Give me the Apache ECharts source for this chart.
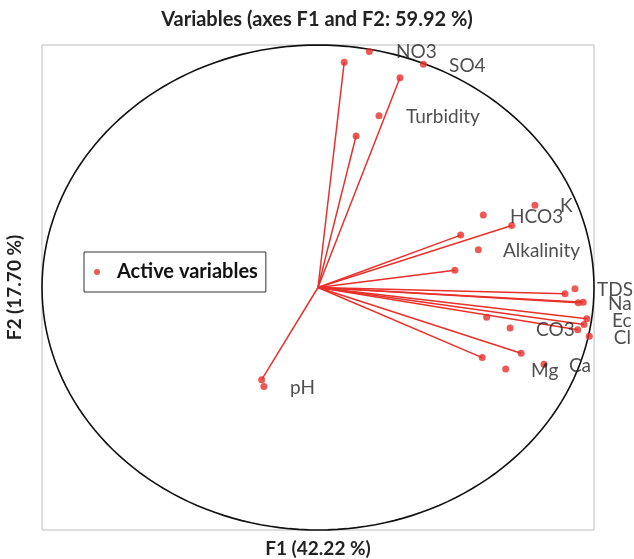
<!DOCTYPE html>
<html>
<head>
<meta charset="utf-8">
<script src="https://cdn.jsdelivr.net/npm/echarts@6/dist/echarts.min.js"></script>
<style>
  html, body { margin: 0; background: #fff; }
  #chart { width: 634px; height: 559px; }
</style>
</head>
<body>
<div id="chart"></div>
<script>
// F1 / F2 coordinates of the vector tips (drawn with a line from the origin)
const vectorEnds = [
  [0.095, 0.929], [0.138, 0.625], [0.297, 0.865],
  [0.702, 0.256], [0.517, 0.216], [0.496, 0.071],
  [0.895, -0.026], [0.943, -0.063], [0.961, -0.061],
  [0.974, -0.129], [0.964, -0.153], [0.941, -0.174],
  [0.736, -0.271], [0.595, -0.289], [-0.204, -0.380]
];
// points shown without a line
const looseDots = [
  [0.186, 0.973], [0.382, 0.921], [0.221, 0.708],
  [0.786, 0.339], [0.599, 0.299], [0.581, 0.156],
  [0.931, -0.005], [0.611, -0.123], [0.696, -0.167],
  [0.983, -0.201], [0.680, -0.336], [0.819, -0.316],
  [-0.196, -0.408]
];
const labelNames = ['NO3', 'SO4', 'Turbidity', 'K', 'HCO3', 'Alkalinity', 'TDS', 'Na', 'Ec', 'Cl', 'CO3', 'Mg', 'Ca', 'pH'];
const labelX = [0.283, 0.475, 0.319, 0.877, 0.696, 0.670, 1.011, 1.051, 1.065, 1.072, 0.790, 0.772, 0.909, -0.101];
const labelY = [0.971, 0.913, 0.702, 0.335, 0.293, 0.149, -0.008, -0.066, -0.136, -0.207, -0.174, -0.343, -0.322, -0.413];

const RED = '#e8302a';
const FONT = 'Lato';

const chart = echarts.init(document.getElementById('chart'));

const hiddenAxis = (name, extra) => Object.assign({
  type: 'value',
  min: -1,
  max: 1,
  name: name,
  nameLocation: 'middle',
  nameTextStyle: {fontFamily: FONT, fontWeight: 'bold', fontSize: 19, color: '#222'},
  axisLine: {show: false},
  axisTick: {show: false},
  axisLabel: {show: false},
  splitLine: {show: false}
}, extra);

chart.setOption({
  animation: false,
  title: {
    text: 'Variables (axes F1 and F2: 59.92 %)',
    left: 'center',
    top: 5,
    textStyle: {fontFamily: FONT, fontWeight: 'bold', fontSize: 20, color: '#222'}
  },
  legend: {
    data: ['Active variables'],
    left: 84,
    top: 252,
    padding: [10, 8, 10, 10],
    borderColor: '#333',
    borderWidth: 1,
    icon: 'circle',
    itemWidth: 6,
    itemHeight: 6,
    textStyle: {fontFamily: FONT, fontWeight: 'bold', fontSize: 20, color: '#111', padding: [0, 0, 0, 12]}
  },
  grid: {
    left: 42,
    right: 40,
    top: 45,
    bottom: 29,
    outerBoundsMode: 'none',
    show: true,
    borderColor: '#bdbdbd',
    borderWidth: 1
  },
  xAxis: hiddenAxis('F1 (42.22 %)', {nameGap: 9}),
  yAxis: hiddenAxis('F2 (17.70 %)', {nameGap: 18, nameRotate: 90}),
  series: [
    {
      // correlation circle
      type: 'custom',
      silent: true,
      data: [[0, 0]],
      renderItem: (params, api) => {
        const pts = [];
        for (let i = 0; i <= 180; i++) {
          const a = i / 180 * Math.PI * 2;
          pts.push(api.coord([Math.cos(a), Math.sin(a)]));
        }
        return {
          type: 'polyline',
          shape: {points: pts},
          style: {stroke: '#111', lineWidth: 1.6, fill: null}
        };
      }
    },
    {
      type: 'lines',
      coordinateSystem: 'cartesian2d',
      silent: true,
      lineStyle: {color: RED, width: 1.5, opacity: 1},
      data: vectorEnds.map(p => ({coords: [[0, 0], p]}))
    },
    {
      name: 'Active variables',
      type: 'scatter',
      symbolSize: 7,
      itemStyle: {color: RED},
      data: vectorEnds.concat(looseDots)
    },
    {
      type: 'scatter',
      symbolSize: 0,
      clip: false,
      silent: true,
      data: labelX.map((x, i) => [x, labelY[i], labelNames[i]]),
      label: {
        show: true,
        position: 'right',
        distance: 0,
        formatter: p => p.data[2],
        fontFamily: FONT,
        fontSize: 19,
        color: '#222'
      }
    }
  ]
});
</script>
</body>
</html>
